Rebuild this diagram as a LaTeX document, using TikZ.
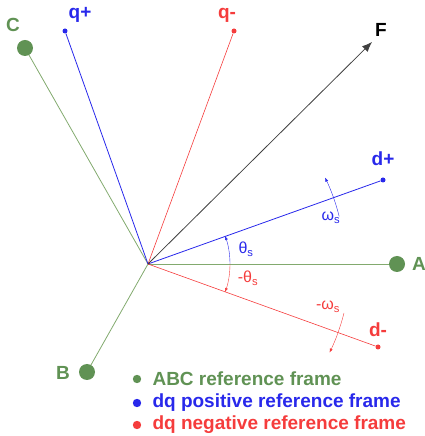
\documentclass[tikz,border=0pt]{standalone}
\usepackage{fontspec}
\setmainfont{Liberation Sans}
\usetikzlibrary{arrows.meta}
\definecolor{abcgreen}{RGB}{96,146,84}
\definecolor{abcline}{RGB}{130,170,110}
\definecolor{dqblue}{RGB}{40,40,235}
\definecolor{dqred}{RGB}{245,60,60}
\begin{document}
\begin{tikzpicture}[x=1pt,y=1pt,
	lbl/.style={font=\fontsize{19}{21}\selectfont\bfseries},
	bigdot/.style={fill=abcgreen,draw=none},
	tip/.style={circle,inner sep=0pt,minimum size=5pt},
	rate/.style={font=\fontsize{16}{18}\selectfont}]
	\useasboundingbox (0,0) rectangle (425,436);

	% origin and end points
	\coordinate (O) at (148,172);
	\coordinate (A) at (397,172);
	\coordinate (B) at (87,64);
	\coordinate (C) at (25,388);
	\coordinate (F) at (372,394);
	\node[tip,fill=dqblue] (qp) at (65,405) {};
	\node[tip,fill=dqred] (qm) at (234,405) {};
	\node[tip,fill=dqblue] (dp) at (383,256) {};
	\node[tip,fill=dqred] (dm) at (378,89) {};

	% ABC frame
	\draw[abcline,thick] (O) -- (A);
	\draw[abcline,thick] (O) -- (B);
	\draw[abcline,thick] (O) -- (C);
	\fill[bigdot] (A) circle [radius=8];
	\fill[bigdot] (B) circle [radius=8];
	\fill[bigdot] (C) circle [radius=8];
	\node[lbl,text=abcgreen] (lA) at (419,172) {A};
	\node[lbl,text=abcgreen] (lB) at (63,63) {B};
	\node[lbl,text=abcgreen] (lC) at (13,411) {C};

	% dq positive
	\draw[dqblue,thick] (O) -- (qp);
	\draw[dqblue,thick] (O) -- (dp);
	\node[lbl,text=dqblue] (lqp) at (80,421) {q+};
	\node[lbl,text=dqblue] (ldp) at (383,277) {d+};

	% dq negative
	\draw[dqred,semithick] (O) -- (qm);
	\draw[dqred,semithick] (O) -- (dm);
	\node[lbl,text=dqred] (lqm) at (227,421) {q-};
	\node[lbl,text=dqred] (ldm) at (378,106) {d-};

	% F
	\draw[black!75,thick,-{Latex[length=10pt,width=8pt]}] (O) -- (F);
	\node[lbl] (lF) at (381,406) {F};

	% angles
	\draw[dqblue,-{Latex[length=4pt,width=3pt]}] ([shift={(0:82)}]O) arc [start angle=0,end angle=20,radius=82];
	\draw[dqred,-{Latex[length=4pt,width=3pt]}] ([shift={(0:82)}]O) arc [start angle=0,end angle=-20,radius=82];
	\node[rate,text=dqblue] (th) at (246,187) {θ\textsubscript{s}};
	\node[rate,text=dqred] (mth) at (248,158) {-θ\textsubscript{s}};

	% speeds
	\draw[dqblue,-{Latex[length=4pt,width=3pt]}] ([shift={(14:197)}]O) arc [start angle=14,end angle=26,radius=197];
	\draw[dqred,-{Latex[length=4pt,width=3pt]}] ([shift={(-14:202)}]O) arc [start angle=-14,end angle=-26,radius=202];
	\node[rate,text=dqblue] (om) at (331,218) {ω\textsubscript{s}};
	\node[rate,text=dqred] (mom) at (328,129) {-ω\textsubscript{s}};

	% legend
	\fill[abcgreen] (137,57) circle [radius=4.2];
	\fill[dqblue] (137,33) circle [radius=4.2];
	\fill[dqred] (137,11) circle [radius=4.2];
	\node[lbl,text=abcgreen,anchor=west] (g1) at (149,57) {ABC reference frame};
	\node[lbl,text=dqblue,anchor=west] (g2) at (149,33) {dq positive reference frame};
	\node[lbl,text=dqred,anchor=west] (g3) at (149,11) {dq negative reference frame};
\end{tikzpicture}
\end{document}
